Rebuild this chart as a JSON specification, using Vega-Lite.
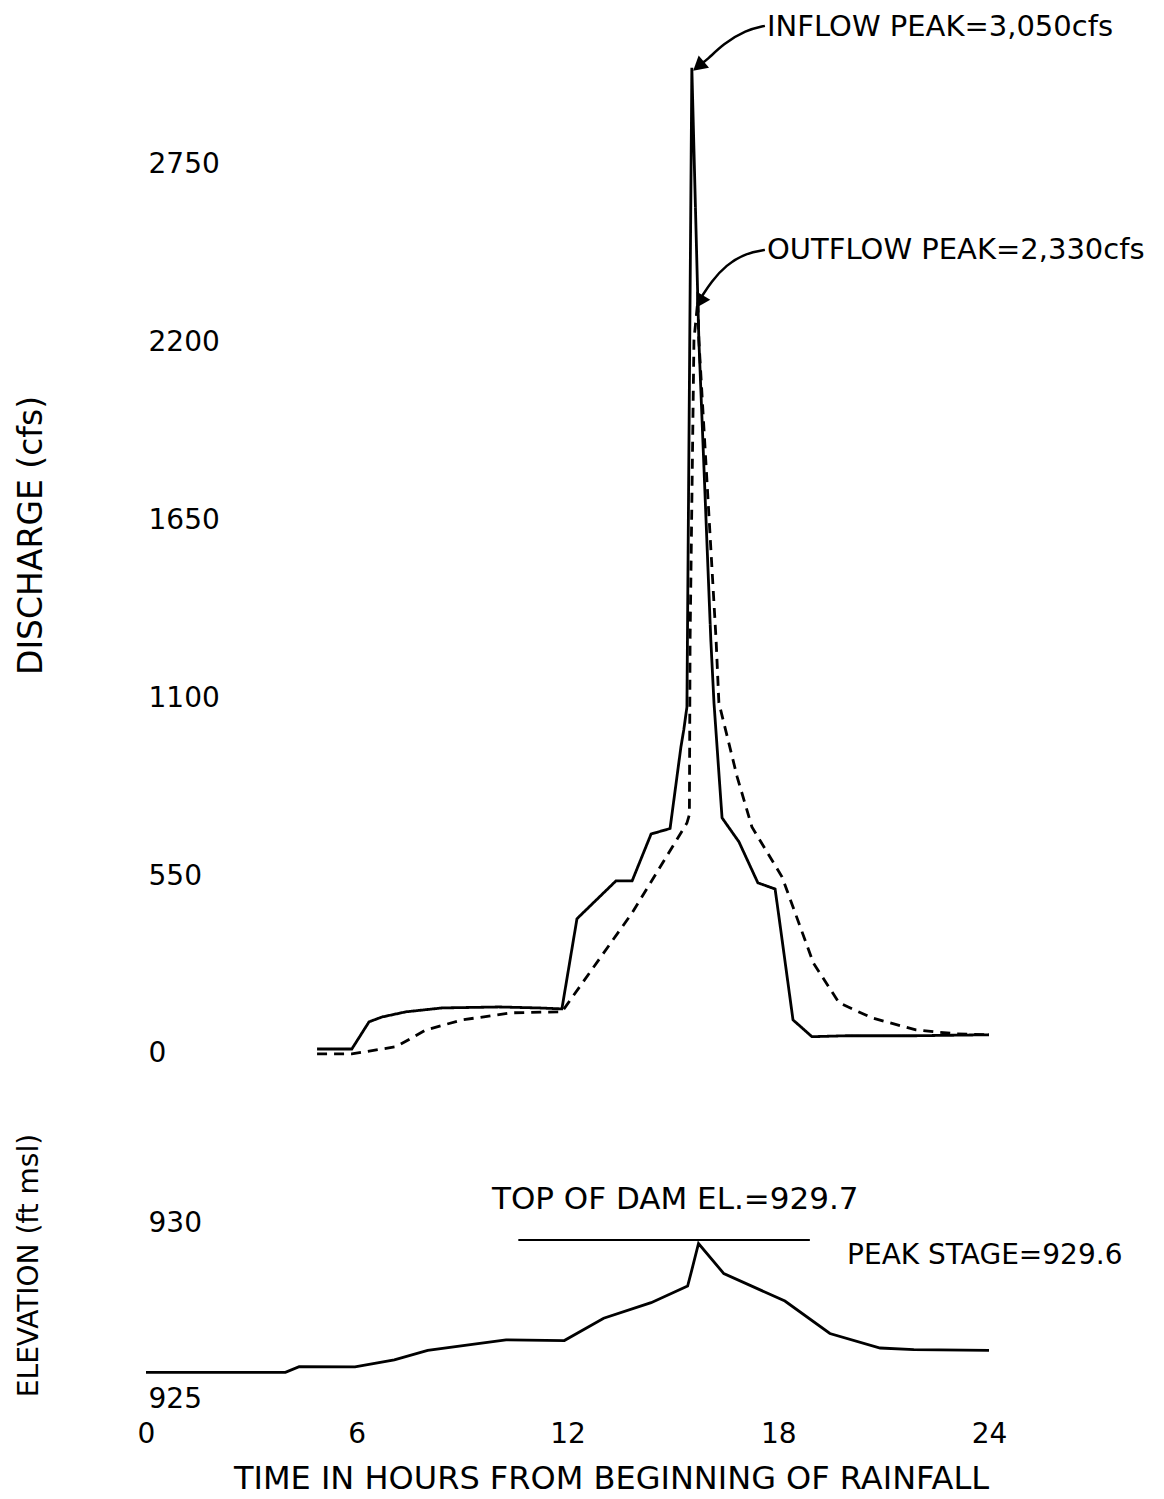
{
  "$schema": "https://vega.github.io/schema/vega-lite/v6.json",
  "background": "white",
  "padding": {"left": 15, "top": 0, "right": 5, "bottom": 3},
  "spacing": 116,
  "bounds": "flush",
  "config": {
    "view": {"stroke": null},
    "axis": {"grid": false, "domain": false, "ticks": false, "labelFont": "DejaVu Sans", "titleFont": "DejaVu Sans", "labelColor": "black", "titleColor": "black", "titleFontWeight": "normal", "labelFontSize": 28, "titleFontSize": 32},
    "text": {"font": "DejaVu Sans", "fontSize": 29, "color": "black"}
  },
  "datasets": {
    "discharge": [
      {"series": "Inflow", "hour": 4.87, "cfs": 15},
      {"series": "Inflow", "hour": 5.86, "cfs": 15},
      {"series": "Inflow", "hour": 6.35, "cfs": 99},
      {"series": "Inflow", "hour": 6.72, "cfs": 114},
      {"series": "Inflow", "hour": 7.40, "cfs": 130},
      {"series": "Inflow", "hour": 8.43, "cfs": 142},
      {"series": "Inflow", "hour": 10.05, "cfs": 145},
      {"series": "Inflow", "hour": 11.19, "cfs": 142},
      {"series": "Inflow", "hour": 11.84, "cfs": 139},
      {"series": "Inflow", "hour": 12.27, "cfs": 418},
      {"series": "Inflow", "hour": 13.38, "cfs": 535},
      {"series": "Inflow", "hour": 13.84, "cfs": 535},
      {"series": "Inflow", "hour": 14.38, "cfs": 680},
      {"series": "Inflow", "hour": 14.92, "cfs": 697},
      {"series": "Inflow", "hour": 15.23, "cfs": 950},
      {"series": "Inflow", "hour": 15.31, "cfs": 1002},
      {"series": "Inflow", "hour": 15.40, "cfs": 1073},
      {"series": "Inflow", "hour": 15.54, "cfs": 3050},
      {"series": "Inflow", "hour": 15.74, "cfs": 2208},
      {"series": "Inflow", "hour": 16.08, "cfs": 1281},
      {"series": "Inflow", "hour": 16.17, "cfs": 1086},
      {"series": "Inflow", "hour": 16.40, "cfs": 730},
      {"series": "Inflow", "hour": 16.88, "cfs": 656},
      {"series": "Inflow", "hour": 17.42, "cfs": 529},
      {"series": "Inflow", "hour": 17.91, "cfs": 510},
      {"series": "Inflow", "hour": 18.02, "cfs": 424},
      {"series": "Inflow", "hour": 18.42, "cfs": 105},
      {"series": "Inflow", "hour": 18.96, "cfs": 53},
      {"series": "Inflow", "hour": 19.93, "cfs": 56},
      {"series": "Inflow", "hour": 21.92, "cfs": 56},
      {"series": "Inflow", "hour": 24.0, "cfs": 59},
      {"series": "Outflow", "hour": 4.87, "cfs": 0},
      {"series": "Outflow", "hour": 5.86, "cfs": 0},
      {"series": "Outflow", "hour": 7.12, "cfs": 22},
      {"series": "Outflow", "hour": 7.97, "cfs": 74},
      {"series": "Outflow", "hour": 9.0, "cfs": 105},
      {"series": "Outflow", "hour": 10.42, "cfs": 127},
      {"series": "Outflow", "hour": 11.84, "cfs": 130},
      {"series": "Outflow", "hour": 13.84, "cfs": 436},
      {"series": "Outflow", "hour": 15.40, "cfs": 714},
      {"series": "Outflow", "hour": 15.47, "cfs": 740},
      {"series": "Outflow", "hour": 15.49, "cfs": 1281},
      {"series": "Outflow", "hour": 15.60, "cfs": 2208},
      {"series": "Outflow", "hour": 15.71, "cfs": 2330},
      {"series": "Outflow", "hour": 15.74, "cfs": 2208},
      {"series": "Outflow", "hour": 16.23, "cfs": 1281},
      {"series": "Outflow", "hour": 16.31, "cfs": 1086},
      {"series": "Outflow", "hour": 16.83, "cfs": 857},
      {"series": "Outflow", "hour": 17.25, "cfs": 702},
      {"series": "Outflow", "hour": 18.11, "cfs": 547},
      {"series": "Outflow", "hour": 19.0, "cfs": 281},
      {"series": "Outflow", "hour": 19.73, "cfs": 158},
      {"series": "Outflow", "hour": 20.67, "cfs": 111},
      {"series": "Outflow", "hour": 21.92, "cfs": 74},
      {"series": "Outflow", "hour": 23.06, "cfs": 62},
      {"series": "Outflow", "hour": 24.0, "cfs": 59}
    ],
    "leaders": [
      {"g": "in", "hour": 17.62, "cfs": 3180},
      {"g": "in", "hour": 17.08, "cfs": 3167},
      {"g": "in", "hour": 16.43, "cfs": 3124},
      {"g": "in", "hour": 15.97, "cfs": 3074},
      {"g": "in", "hour": 15.83, "cfs": 3065},
      {"g": "out", "hour": 17.62, "cfs": 2487},
      {"g": "out", "hour": 17.08, "cfs": 2477},
      {"g": "out", "hour": 16.51, "cfs": 2440},
      {"g": "out", "hour": 16.09, "cfs": 2388},
      {"g": "out", "hour": 15.83, "cfs": 2344}
    ],
    "notesTop": [
      {"hour": 17.68, "cfs": 3176, "label": "INFLOW PEAK=3,050cfs"},
      {"hour": 17.68, "cfs": 2487, "label": "OUTFLOW PEAK=2,330cfs"}
    ],
    "elevation": [
      {"hour": 0, "elev": 925.79},
      {"hour": 3.97, "elev": 925.79},
      {"hour": 4.36, "elev": 925.96},
      {"hour": 5.95, "elev": 925.95},
      {"hour": 7.07, "elev": 926.16},
      {"hour": 8.02, "elev": 926.44},
      {"hour": 9.29, "elev": 926.62},
      {"hour": 10.25, "elev": 926.75},
      {"hour": 11.91, "elev": 926.73},
      {"hour": 13.03, "elev": 927.39},
      {"hour": 14.38, "elev": 927.85},
      {"hour": 15.42, "elev": 928.34},
      {"hour": 15.54, "elev": 928.82},
      {"hour": 15.73, "elev": 929.6},
      {"hour": 16.45, "elev": 928.71},
      {"hour": 18.19, "elev": 927.9},
      {"hour": 19.47, "elev": 926.94},
      {"hour": 20.9, "elev": 926.51},
      {"hour": 21.86, "elev": 926.46},
      {"hour": 24, "elev": 926.44}
    ],
    "dam": [
      {"hour": 10.6, "elev": 929.7},
      {"hour": 18.9, "elev": 929.7}
    ],
    "notesBottom": [
      {"hour": 9.85, "elev": 930.89, "label": "TOP OF DAM EL.=929.7", "size": "big"},
      {"hour": 19.96, "elev": 929.23, "label": "PEAK STAGE=929.6", "size": "small"}
    ]
  },
  "vconcat": [
    {
      "width": 843,
      "height": 1070,
      "encoding": {
        "x": {"field": "hour", "type": "quantitative", "scale": {"domain": [0, 24], "nice": false, "zero": false}, "axis": null},
        "y": {"field": "cfs", "type": "quantitative", "scale": {"domain": [-50, 3260], "nice": false, "zero": false},
          "axis": {"values": [0, 550, 1100, 1650, 2200, 2750], "format": "d", "labelAlign": "left", "labelBaseline": "middle", "labelPadding": -2,
            "title": "DISCHARGE (cfs)", "titleFontSize": 33, "titleAngle": -90, "titleX": -115, "titleY": 535, "titleAlign": "center", "titleBaseline": "middle"}}
      },
      "layer": [
        {
          "data": {"name": "discharge"},
          "mark": {"type": "line", "color": "black", "strokeWidth": 2.8},
          "encoding": {
            "strokeDash": {"field": "series", "type": "nominal", "scale": {"domain": ["Inflow", "Outflow"], "range": [[1, 0], [10, 7]]}, "legend": null}
          }
        },
        {
          "data": {"name": "leaders"},
          "mark": {"type": "line", "color": "black", "strokeWidth": 2.5, "interpolate": "basis"},
          "encoding": {"detail": {"field": "g", "type": "nominal"}}
        },
        {
          "data": {"values": [{"hour": 15.78, "cfs": 3060}]},
          "mark": {"type": "point", "shape": "triangle", "filled": true, "color": "black", "opacity": 1, "size": 260, "angle": 230}
        },
        {
          "data": {"values": [{"hour": 15.80, "cfs": 2333}]},
          "mark": {"type": "point", "shape": "triangle", "filled": true, "color": "black", "opacity": 1, "size": 260, "angle": 211}
        },
        {
          "data": {"name": "notesTop"},
          "mark": {"type": "text", "align": "left", "baseline": "middle"},
          "encoding": {"text": {"field": "label", "type": "nominal"}}
        }
      ]
    },
    {
      "width": 843,
      "height": 230,
      "encoding": {
        "x": {"field": "hour", "type": "quantitative", "scale": {"domain": [0, 24], "nice": false, "zero": false},
          "axis": {"values": [0, 6, 12, 18, 24], "labelFlush": false, "labelPadding": 4, "labelBaseline": "top",
            "title": "TIME IN HOURS FROM BEGINNING OF RAINFALL", "titleX": 465, "titleY": 62, "titleAlign": "center", "titleBaseline": "middle"}},
        "y": {"field": "elev", "type": "quantitative", "scale": {"domain": [924.5, 931.3], "nice": false, "zero": false},
          "axis": {"values": [925, 930], "format": "d", "labelAlign": "left", "labelBaseline": "middle", "labelPadding": -2,
            "labelOffset": {"condition": {"test": "datum.value == 930", "value": -6}, "value": 0},
            "title": "ELEVATION (ft msl)", "titleFontSize": 28, "titleX": -117, "titleY": 79, "titleAngle": -90, "titleAlign": "center", "titleBaseline": "middle"}}
      },
      "layer": [
        {
          "data": {"name": "elevation"},
          "mark": {"type": "line", "color": "black", "strokeWidth": 2.8}
        },
        {
          "data": {"name": "dam"},
          "mark": {"type": "line", "color": "black", "strokeWidth": 2}
        },
        {
          "data": {"name": "notesBottom"},
          "transform": [{"filter": "datum.size == 'big'"}],
          "mark": {"type": "text", "align": "left", "baseline": "middle", "fontSize": 31},
          "encoding": {"text": {"field": "label", "type": "nominal"}}
        },
        {
          "data": {"name": "notesBottom"},
          "transform": [{"filter": "datum.size == 'small'"}],
          "mark": {"type": "text", "align": "left", "baseline": "middle", "fontSize": 28},
          "encoding": {"text": {"field": "label", "type": "nominal"}}
        }
      ]
    }
  ]
}
